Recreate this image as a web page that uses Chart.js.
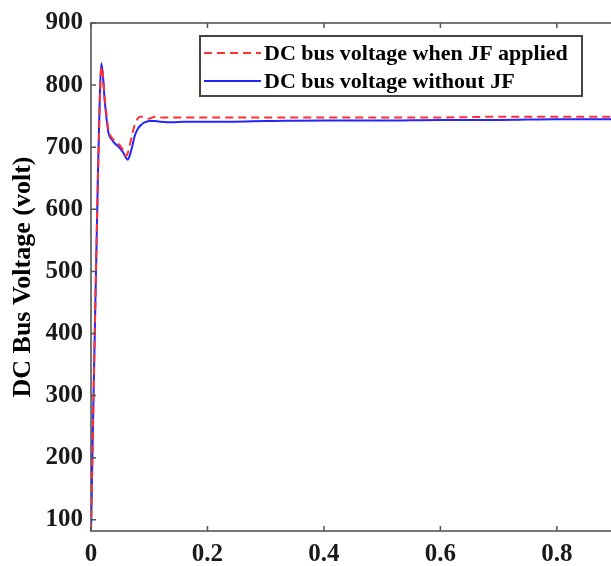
<!DOCTYPE html>
<html>
<head>
<meta charset="utf-8">
<script src="https://cdn.jsdelivr.net/npm/chart.js@4/dist/chart.umd.min.js"></script>
<style>
  html, body { margin: 0; padding: 0; background: #fff; }
  canvas { display: block; }
</style>
</head>
<body>
<canvas id="busChart" width="611" height="566"></canvas>
<script>
// time (s)
const time = [0, 0.012, 0.018, 0.024, 0.030, 0.036, 0.041, 0.046, 0.050, 0.055, 0.060, 0.063, 0.067, 0.071, 0.075, 0.080, 0.085, 0.090, 0.095, 0.100, 0.110, 0.120, 0.140, 0.160, 0.200, 0.300, 0.400, 0.500, 0.600, 0.700, 0.800, 0.893];
// DC bus voltage when JF applied
const withJF = [82, 650, 830, 775, 728, 715, 710, 706, 703, 695, 686, 690, 705, 722, 736, 746, 749, 749, 747, 746, 749, 748, 748, 748, 748, 748, 748, 748, 748, 749, 749, 749];
// DC bus voltage without JF
const withoutJF = [82, 660, 835, 770, 723, 712, 706, 702, 698, 692, 683, 680, 688, 702, 718, 729, 735, 739, 741, 742, 742, 741, 740, 741, 741, 742, 743, 743, 744, 744, 745, 745];

const xTicks = [0, 0.2, 0.4, 0.6, 0.8];
const yTicks = [100, 200, 300, 400, 500, 600, 700, 800, 900];

const seriesNames = ['DC bus voltage when JF applied', 'DC bus voltage without JF'];

const serif = '"Liberation Serif", "Times New Roman", serif';
const axisColor = '#777';

const toPoints = (vals) => time.map((t, i) => ({ x: t, y: vals[i] }));

// top border, inner ticks and the boxed legend
const framePlugin = {
  id: 'frame',
  afterDraw(chart) {
    const { ctx, chartArea: a, scales } = chart;
    ctx.save();
    ctx.strokeStyle = axisColor;
    ctx.lineWidth = 2;
    ctx.beginPath();
    ctx.moveTo(a.left, a.top);
    ctx.lineTo(a.right, a.top);
    ctx.stroke();

    ctx.lineWidth = 1.5;
    ctx.strokeStyle = '#555';
    ctx.beginPath();
    xTicks.forEach(v => {
      const px = scales.x.getPixelForValue(v);
      ctx.moveTo(px, a.bottom); ctx.lineTo(px, a.bottom - 5);
      ctx.moveTo(px, a.top); ctx.lineTo(px, a.top + 5);
    });
    yTicks.forEach(v => {
      const py = scales.y.getPixelForValue(v);
      ctx.moveTo(a.left, py); ctx.lineTo(a.left + 5, py);
    });
    ctx.stroke();

    // legend
    const bx = 200, by = 36, bw = 382, bh = 60;
    ctx.fillStyle = '#fff';
    ctx.fillRect(bx, by, bw, bh);
    ctx.strokeStyle = '#444';
    ctx.lineWidth = 2;
    ctx.strokeRect(bx, by, bw, bh);

    const rows = [53, 81];
    chart.data.datasets.forEach((ds, i) => {
      ctx.strokeStyle = ds.borderColor;
      ctx.lineWidth = 2;
      ctx.setLineDash(ds.borderDash || []);
      ctx.beginPath();
      ctx.moveTo(bx + 4, rows[i]);
      ctx.lineTo(bx + 61, rows[i]);
      ctx.stroke();
      ctx.setLineDash([]);
      ctx.fillStyle = '#000';
      ctx.font = 'bold 22px ' + serif;
      ctx.textBaseline = 'middle';
      ctx.fillText(ds.label, bx + 64, rows[i] + 1);
    });
    ctx.restore();
  }
};

new Chart(document.getElementById('busChart'), {
  type: 'line',
  data: {
    datasets: [
      {
        label: seriesNames[0],
        data: toPoints(withJF),
        borderColor: '#ff3030',
        borderWidth: 2,
        borderDash: [8, 5],
        pointRadius: 0,
        cubicInterpolationMode: 'monotone',
      },
      {
        label: seriesNames[1],
        data: toPoints(withoutJF),
        borderColor: '#2424ff',
        borderWidth: 2,
        pointRadius: 0,
        cubicInterpolationMode: 'monotone',
      },
    ],
  },
  options: {
    responsive: false,
    animation: false,
    layout: { padding: { top: 23, right: 0, left: 0, bottom: 0 } },
    plugins: {
      legend: { display: false },
      tooltip: { enabled: false },
    },
    scales: {
      x: {
        type: 'linear',
        min: 0,
        max: 0.893,
        afterBuildTicks: (s) => { s.ticks = xTicks.map(v => ({ value: v })); },
        afterFit: (s) => { s.height = 35; },
        grid: { display: false, drawTicks: false },
        border: { display: true, color: axisColor, width: 2 },
        ticks: {
          padding: 9,
          color: '#1a1a1a',
          font: { family: serif, size: 25, weight: 'bold' },
          callback: (v) => String(v),
        },
      },
      y: {
        min: 82,
        max: 900,
        afterBuildTicks: (s) => { s.ticks = yTicks.map(v => ({ value: v })); },
        afterFit: (s) => { s.width = 91; },
        grid: { display: false, drawTicks: false },
        border: { display: true, color: axisColor, width: 2 },
        ticks: {
          padding: 8,
          color: '#1a1a1a',
          font: { family: serif, size: 25, weight: 'bold' },
        },
        title: {
          display: true,
          text: 'DC Bus Voltage (volt)',
          color: '#000',
          font: { family: serif, size: 26, weight: 'bold' },
          padding: { top: 8, bottom: 0 },
        },
      },
    },
  },
  plugins: [framePlugin],
});
</script>
</body>
</html>
